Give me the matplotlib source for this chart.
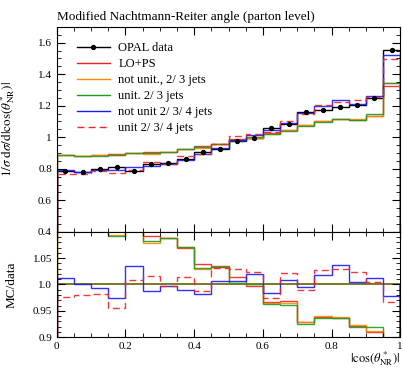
import numpy as np
import matplotlib
matplotlib.use("Agg")
import matplotlib.pyplot as plt
from matplotlib.lines import Line2D
from matplotlib.ticker import MultipleLocator, FixedLocator, FixedFormatter

plt.rcParams['font.family'] = ['Liberation Serif', 'DejaVu Serif']
plt.rcParams['mathtext.fontset'] = 'stix'

# bin edges in |cos(theta*_NR)|
edges = np.linspace(0.0, 1.0, 21)

# OPAL data
data = [0.786, 0.780, 0.797, 0.811, 0.786, 0.830, 0.835, 0.865, 0.907, 0.928,
        0.977, 0.998, 1.060, 1.083, 1.160, 1.173, 1.190, 1.205, 1.246, 1.552]
data_err = [0.006, 0.006, 0.006, 0.006, 0.006, 0.006, 0.006, 0.006, 0.006, 0.006,
            0.006, 0.006, 0.007, 0.007, 0.007, 0.007, 0.008, 0.008, 0.008, 0.010]

# MC predictions
lops = [0.888, 0.884, 0.887, 0.895, 0.899, 0.906, 0.908, 0.925, 0.943, 0.960,
        0.991, 0.996, 1.025, 1.049, 1.078, 1.100, 1.114, 1.111, 1.134, 1.322]
notunit23 = [0.887, 0.882, 0.885, 0.887, 0.898, 0.896, 0.908, 0.927, 0.934, 0.958,
             0.980, 0.998, 1.023, 1.045, 1.078, 1.103, 1.116, 1.113, 1.136, 1.341]
unit23 = [0.886, 0.879, 0.884, 0.886, 0.897, 0.899, 0.908, 0.927, 0.935, 0.959,
          0.980, 0.999, 1.021, 1.041, 1.072, 1.099, 1.114, 1.107, 1.145, 1.341]
notunit234 = [0.795, 0.780, 0.791, 0.790, 0.8135, 0.819, 0.832, 0.856, 0.891, 0.934,
              0.983, 1.017, 1.043, 1.093, 1.155, 1.195, 1.235, 1.211, 1.262, 1.519]
unit234 = [0.768, 0.764, 0.783, 0.775, 0.792, 0.843, 0.833, 0.878, 0.896, 0.957,
           1.006, 1.022, 1.032, 1.106, 1.147, 1.206, 1.226, 1.234, 1.253, 1.499]

series = [
    ("LO+PS", lops, "#ee2222", "-"),
    ("not unit., 2/ 3 jets", notunit23, "#ff8c00", "-"),
    ("unit. 2/ 3 jets", unit23, "#1f9a1f", "-"),
    ("not unit 2/ 3/ 4 jets", notunit234, "#1a1aff", "-"),
    ("unit 2/ 3/ 4 jets", unit234, "#ee2222", (0, (5, 3))),
]

data = np.array(data)
centers = 0.5 * (edges[1:] + edges[:-1])

fig = plt.figure(figsize=(4.03, 3.68), dpi=100)
ax = fig.add_axes([0.141, 0.370, 0.852, 0.557])
rax = fig.add_axes([0.141, 0.084, 0.852, 0.286], sharex=ax)

# main panel
ax.stairs(data, edges, color="black", lw=1.0)
ax.errorbar(centers, data, yerr=data_err, fmt="o", color="black", ms=2.8,
            elinewidth=0.8, capsize=0)
for label, vals, col, ls in series:
    ax.stairs(vals, edges, color=col, lw=1.0, ls=ls, alpha=0.9)

handles = [Line2D([], [], color="black", marker="o", ms=2.8, lw=1.0)]
handles += [Line2D([], [], color=c, ls=s, lw=1.0) for _, _, c, s in series]
labels = ["OPAL data"] + [s[0] for s in series]
ax.legend(handles, labels, loc="upper left", frameon=False, fontsize=9,
          handlelength=2.6, labelspacing=0.32, borderaxespad=0.4,
          handletextpad=0.7, bbox_to_anchor=(0.03, 0.975))

ax.set_xlim(0, 1)
ax.set_ylim(0.4, 1.7)
ax.yaxis.set_major_locator(FixedLocator([0.4, 0.6, 0.8, 1.0, 1.2, 1.4, 1.6]))
ax.yaxis.set_major_formatter(FixedFormatter(["0.4", "0.6", "0.8", "1", "1.2", "1.4", "1.6"]))
ax.yaxis.set_minor_locator(MultipleLocator(0.05))
ax.set_ylabel(r"$1/\sigma\;\mathrm{d}\sigma/\mathrm{d}|\cos(\theta^*_{\mathrm{NR}})|$", fontsize=9.5)
ax.tick_params(labelbottom=False)
ax.set_title("Modified Nachtmann-Reiter angle (parton level)", loc="left",
             fontsize=9.5, pad=5)

# ratio panel
rax.stairs(data / data, edges, color="#707010", lw=1.3)
for label, vals, col, ls in series:
    rax.stairs(np.array(vals) / data, edges, color=col, lw=1.0, ls=ls, alpha=0.9)
rax.set_ylim(0.9, 1.1)
rax.yaxis.set_major_locator(FixedLocator([0.9, 0.95, 1.0, 1.05]))
rax.yaxis.set_major_formatter(FixedFormatter(["0.9", "0.95", "1.0", "1.05"]))
rax.yaxis.set_minor_locator(MultipleLocator(0.01))
rax.xaxis.set_major_locator(FixedLocator([0, 0.2, 0.4, 0.6, 0.8, 1.0]))
rax.xaxis.set_major_formatter(FixedFormatter(["0", "0.2", "0.4", "0.6", "0.8", "1"]))
rax.xaxis.set_minor_locator(MultipleLocator(0.05))
rax.set_ylabel("MC/data", fontsize=9.5)
rax.set_xlabel(r"$|\cos(\theta^*_{\mathrm{NR}})|$", fontsize=9, loc="right", labelpad=-1)

for a in (ax, rax):
    a.tick_params(which="both", direction="in", top=True, right=True, labelsize=8)
    a.tick_params(which="major", length=6, width=0.8)
    a.tick_params(which="minor", length=3, width=0.6)
    for sp in a.spines.values():
        sp.set_linewidth(0.8)

ax.yaxis.set_label_coords(-0.115, 0.5)
rax.yaxis.set_label_coords(-0.115, 0.5)
rax.xaxis.set_label_coords(1.0, -0.12)

fig.savefig("out.png", dpi=100)
